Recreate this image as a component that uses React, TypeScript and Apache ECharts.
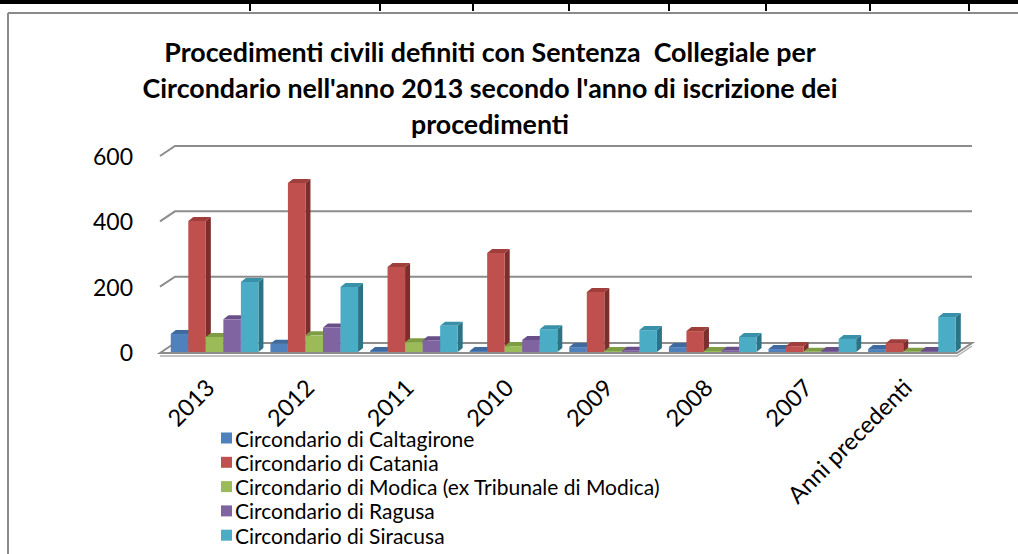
import React, { useEffect, useRef } from "react";
import * as echarts from "echarts";

const categories = ["2013", "2012", "2011", "2010", "2009", "2008", "2007", "Anni precedenti"];
const seriesNames = [
  "Circondario di Caltagirone",
  "Circondario di Catania",
  "Circondario di Modica (ex Tribunale di Modica)",
  "Circondario di Ragusa",
  "Circondario di Siracusa",
];
const caltagirone = [55, 25, 3, 3, 15, 15, 9, 9];
const catania = [401, 517, 260, 303, 184, 64, 18, 27];
const modica = [46, 51, 30, 18, 3, 3, 1, 1];
const ragusa = [100, 75, 36, 37, 4, 4, 3, 3];
const siracusa = [214, 199, 80, 70, 67, 46, 40, 107];
const yTicks = [0, 200, 400, 600];
const titleLines = [
  "Procedimenti civili definiti con Sentenza  Collegiale per",
  "Circondario nell'anno 2013 secondo l'anno di iscrizione dei",
  "procedimenti",
];
const colors = ["#4F81BD", "#C0504D", "#9BBB59", "#8064A2", "#4BACC6"];
const topColors = ["#3E6A9E", "#9F3E3B", "#7E9C44", "#684F87", "#3891A8"];
const sideColors = ["#2F5280", "#7B2E2C", "#627A33", "#513D6A", "#2C7386"];
const allSeries = [caltagirone, catania, modica, ragusa, siracusa];
const topSeparators = [250, 380, 473, 569, 669, 766, 870, 969];

const FONT = "Lato, 'Open Sans', sans-serif";
const DX = 5;
const DY = -4;
const WALL_DX = 15;
const WALL_DY = -10;

function barRenderer(idx: number) {
  return (params: any, api: any) => {
    const cat = api.value(0);
    const v = api.value(1);
    const base = api.coord([cat, 0]);
    const top = api.coord([cat, v]);
    const band = api.size([1, 0])[0];
    const w = band * 0.176;
    const x0 = base[0] - band * 0.392 + idx * w;
    const x1 = x0 + w;
    const yb = base[1];
    const yt = top[1];
    return {
      type: "group",
      children: [
        {
          type: "polygon",
          shape: { points: [[x1, yb], [x1 + DX, yb + DY], [x1 + DX, yt + DY], [x1, yt]] },
          style: { fill: sideColors[idx] },
        },
        {
          type: "polygon",
          shape: { points: [[x0, yt], [x0 + DX, yt + DY], [x1 + DX, yt + DY], [x1, yt]] },
          style: { fill: topColors[idx] },
        },
        {
          type: "rect",
          shape: { x: x0, y: yt, width: w, height: Math.max(0, yb - yt) },
          style: { fill: colors[idx] },
        },
      ],
    };
  };
}

function wallRenderer(params: any, api: any) {
  const v = api.value(1);
  const cs = params.coordSys;
  const y = api.coord([0, v])[1];
  const xl = cs.x;
  const xr = cs.x + cs.width;
  if (v === 0) {
    return {
      type: "group",
      children: [
        {
          type: "polygon",
          shape: {
            points: [
              [xl, y + 1],
              [xl + WALL_DX, y + 1 + WALL_DY],
              [xr + WALL_DX, y + 1 + WALL_DY],
              [xr, y + 1],
            ],
          },
          style: { fill: "#ffffff", stroke: "#8c8c8c", lineWidth: 2 },
        },
        {
          type: "polyline",
          shape: { points: [[xl, y + 4], [xr, y + 4], [xr + WALL_DX, y + 4 + WALL_DY]] },
          style: { fill: "none", stroke: "#b0b0b0", lineWidth: 1.5 },
        },
      ],
    };
  }
  return {
    type: "polyline",
    shape: {
      points: [
        [xl, y],
        [xl + WALL_DX, y + WALL_DY],
        [xr + WALL_DX, y + WALL_DY],
      ],
    },
    style: { fill: "none", stroke: "#8c8c8c", lineWidth: 2 },
  };
}

export default function App() {
  const ref = useRef<HTMLDivElement>(null);
  useEffect(() => {
    if (!ref.current) return;
    const chart = echarts.init(ref.current, null, { renderer: "svg" });
    const graphics: any[] = [
      { type: "rect", shape: { x: 0, y: 0, width: 1018, height: 4 }, style: { fill: "#000" }, z: 10 },
      { type: "line", shape: { x1: 8, y1: 13, x2: 1018, y2: 13 }, style: { stroke: "#8a8a8a", lineWidth: 2 } },
      { type: "line", shape: { x1: 8, y1: 13, x2: 8, y2: 554 }, style: { stroke: "#8a8a8a", lineWidth: 2 } },
      {
        type: "text",
        x: 490,
        y: 88,
        style: {
          text: titleLines.join("\n"),
          font: `bold 26.8px ${FONT}`,
          fill: "#000",
          align: "center",
          verticalAlign: "middle",
          lineHeight: 36,
        },
      },
    ];
    topSeparators.forEach((x) => {
      graphics.push({
        type: "line",
        shape: { x1: x, y1: 0, x2: x, y2: 11 },
        style: { stroke: "#000", lineWidth: 2 },
        z: 10,
      });
    });

    const series: any[] = [
      {
        type: "custom",
        name: "wall",
        renderItem: wallRenderer,
        data: yTicks.map((t) => [0, t]),
        encode: { x: 0, y: 1 },
        silent: true,
        z: 1,
      },
    ];
    allSeries.forEach((vals, idx) => {
      series.push({
        type: "custom",
        name: seriesNames[idx],
        renderItem: barRenderer(idx),
        data: vals.map((v, i) => [i, v]),
        encode: { x: 0, y: 1 },
        itemStyle: { color: colors[idx] },
        z: 2,
      });
    });

    chart.setOption({
      animation: false,
      backgroundColor: "#ffffff",
      grid: { left: 160, right: 61, top: 156, bottom: 202, containLabel: false },
      xAxis: {
        type: "category",
        data: categories,
        axisLine: { show: false },
        axisTick: { show: false },
        axisLabel: {
          interval: 0,
          rotate: 45,
          margin: 31,
          fontSize: 23.5,
          fontFamily: FONT,
          color: "#000",
        },
      },
      yAxis: {
        type: "value",
        min: 0,
        max: 600,
        interval: 200,
        axisLine: { show: false },
        axisTick: { show: false },
        splitLine: { show: false },
        axisLabel: { margin: 27, fontSize: 23, fontFamily: FONT, color: "#000" },
      },
      legend: {
        data: seriesNames.map((n, i) => ({ name: n, icon: "rect", itemStyle: { color: colors[i] } })),
        orient: "vertical",
        left: 221,
        top: 426,
        height: 128,
        padding: 0,
        itemWidth: 11,
        itemHeight: 11,
        itemGap: 0.3,
        textStyle: { fontSize: 21, fontFamily: FONT, color: "#000", lineHeight: 24, padding: [0, 0, 0, -2] },
        selectedMode: false,
      },
      graphic: graphics,
      series,
    });
    return () => chart.dispose();
  }, []);
  return (
    <div
      ref={ref}
      style={{ position: "fixed", left: 0, top: 0, width: 1018, height: 554, background: "#fff" }}
    />
  );
}
